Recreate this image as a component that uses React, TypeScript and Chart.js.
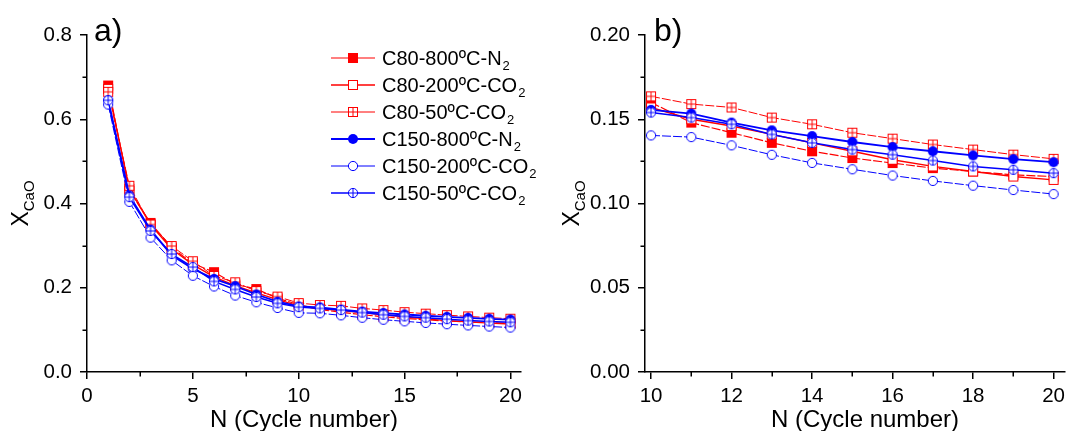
import React, { useEffect, useRef } from "react";
import { Chart, registerables } from "chart.js";

Chart.register(...registerables);

// ---------------- data ----------------
const cycles = [1, 2, 3, 4, 5, 6, 7, 8, 9, 10, 11, 12, 13, 14, 15, 16, 17, 18, 19, 20];

const c80_800_N2 = [0.680, 0.430, 0.354, 0.295, 0.258, 0.237, 0.208, 0.197, 0.175, 0.160, 0.148, 0.142, 0.136, 0.131, 0.127, 0.124, 0.121, 0.119, 0.117, 0.116];
const c80_200_CO2 = [0.672, 0.435, 0.350, 0.292, 0.255, 0.226, 0.205, 0.188, 0.172, 0.157, 0.150, 0.146, 0.141, 0.136, 0.131, 0.126, 0.122, 0.119, 0.116, 0.114];
const c80_50_CO2 = [0.665, 0.442, 0.350, 0.299, 0.263, 0.228, 0.213, 0.192, 0.179, 0.1636, 0.159, 0.157, 0.151, 0.147, 0.142, 0.1385, 0.135, 0.132, 0.129, 0.1265];
const c150_800_N2 = [0.645, 0.419, 0.338, 0.277, 0.245, 0.221, 0.204, 0.184, 0.167, 0.1556, 0.1534, 0.148, 0.1434, 0.140, 0.1365, 0.1335, 0.131, 0.1285, 0.1263, 0.1245];
const c150_200_CO2 = [0.635, 0.404, 0.319, 0.265, 0.2285, 0.203, 0.1815, 0.1655, 0.152, 0.1404, 0.1394, 0.1345, 0.1289, 0.1241, 0.1203, 0.1166, 0.1134, 0.1106, 0.108, 0.1056];
const c150_50_CO2 = [0.645, 0.415, 0.335, 0.280, 0.249, 0.215, 0.196, 0.178, 0.163, 0.154, 0.151, 0.147, 0.141, 0.136, 0.132, 0.129, 0.1255, 0.122, 0.120, 0.118];

const seriesValues = [c80_800_N2, c80_200_CO2, c80_50_CO2, c150_800_N2, c150_200_CO2, c150_50_CO2];
const seriesNames = ["C80-800ºC-N", "C80-200ºC-CO", "C80-50ºC-CO", "C150-800ºC-N", "C150-200ºC-CO", "C150-50ºC-CO"];
const seriesSubs = ["2", "2", "2", "2", "2", "2"];

// tick values
const leftXMinor = [2.5, 7.5, 12.5, 17.5];
const leftYMinor = [0.1, 0.3, 0.5, 0.7];
const rightXMinor = [11, 13, 15, 17, 19];
const rightYMinor = [0.025, 0.075, 0.125, 0.175];

const xTitle = "N (Cycle number)";
const yTitleMain = "X";
const yTitleSub = "CaO";

// ---------------- styles ----------------
const FONT = "'Liberation Sans', Arial, Helvetica, sans-serif";
const RED = "#ff0000";
const BLUE = "#0000ff";

type MarkerKind = "squareFilled" | "squareOpen" | "squareGrid" | "circleFilled" | "circleOpen" | "circlePlus";

const seriesStyles: { color: string; marker: MarkerKind; width: number; dash: number[] }[] = [
  { color: RED, marker: "squareFilled", width: 1.2, dash: [9, 2] },
  { color: RED, marker: "squareOpen", width: 1.4, dash: [] },
  { color: RED, marker: "squareGrid", width: 1, dash: [9, 2] },
  { color: BLUE, marker: "circleFilled", width: 1.8, dash: [] },
  { color: BLUE, marker: "circleOpen", width: 1, dash: [9, 2] },
  { color: BLUE, marker: "circlePlus", width: 1.5, dash: [] },
];

const MSIZE = 12;

function makeMarker(kind: MarkerKind, color: string): HTMLCanvasElement {
  const c = document.createElement("canvas");
  c.width = MSIZE;
  c.height = MSIZE;
  const ctx = c.getContext("2d")!;
  const m = MSIZE / 2;
  ctx.lineWidth = 1;
  ctx.strokeStyle = color;
  if (kind.startsWith("square")) {
    if (kind === "squareFilled") {
      ctx.fillStyle = color;
      ctx.fillRect(1, 1, 10, 10);
    } else {
      ctx.fillStyle = "#ffffff";
      ctx.fillRect(1, 1, 10, 10);
      ctx.strokeRect(1.5, 1.5, 9, 9);
      if (kind === "squareGrid") {
        ctx.beginPath();
        ctx.moveTo(m, 1.5);
        ctx.lineTo(m, 10.5);
        ctx.moveTo(1.5, m);
        ctx.lineTo(10.5, m);
        ctx.stroke();
      }
    }
  } else {
    ctx.beginPath();
    ctx.arc(m, m, 5, 0, Math.PI * 2);
    if (kind === "circleFilled") {
      ctx.fillStyle = color;
      ctx.fill();
    } else {
      ctx.fillStyle = "#ffffff";
      ctx.fill();
      ctx.beginPath();
      ctx.arc(m, m, 4.6, 0, Math.PI * 2);
      ctx.stroke();
      if (kind === "circlePlus") {
        ctx.beginPath();
        ctx.moveTo(m, 1.5);
        ctx.lineTo(m, 10.5);
        ctx.moveTo(1.5, m);
        ctx.lineTo(10.5, m);
        ctx.stroke();
      }
    }
  }
  return c;
}

function drawYTitle(ctx: CanvasRenderingContext2D, xBase: number, yCenter: number) {
  ctx.save();
  ctx.fillStyle = "#000";
  ctx.textBaseline = "alphabetic";
  ctx.textAlign = "left";
  const mainFont = `23px ${FONT}`;
  const subFont = `15px ${FONT}`;
  ctx.font = mainFont;
  const wMain = ctx.measureText(yTitleMain).width;
  ctx.font = subFont;
  const wSub = ctx.measureText(yTitleSub).width;
  const total = wMain + wSub;
  ctx.translate(xBase, yCenter);
  ctx.rotate(-Math.PI / 2);
  ctx.font = mainFont;
  ctx.fillText(yTitleMain, -total / 2, 0);
  ctx.font = subFont;
  ctx.fillText(yTitleSub, -total / 2 + wMain, 6);
  ctx.restore();
}

function drawMinor(chart: any, xs: number[], ys: number[]) {
  const ctx = chart.ctx as CanvasRenderingContext2D;
  const area = chart.chartArea;
  const sx = chart.scales.x;
  const sy = chart.scales.y;
  ctx.save();
  ctx.strokeStyle = "#000";
  ctx.lineWidth = 1.5;
  ctx.beginPath();
  xs.forEach((v) => {
    const px = Math.round(sx.getPixelForValue(v)) + 0.25;
    ctx.moveTo(px, area.bottom);
    ctx.lineTo(px, area.bottom + 4.5);
  });
  ys.forEach((v) => {
    const py = Math.round(sy.getPixelForValue(v)) + 0.25;
    ctx.moveTo(area.left - 4.5, py);
    ctx.lineTo(area.left, py);
  });
  ctx.stroke();
  ctx.restore();
}

type PanelCfg = {
  width: number;
  xMin: number;
  xMax: number;
  xStep: number;
  yMin: number;
  yMax: number;
  yStep: number;
  yDecimals: number;
  axisLeft: number;
  padRight: number;
  xMinorTicks: number[];
  yMinorTicks: number[];
  fromCycle: number;
  panelLabel: string;
  panelLabelX: number;
  yTitleX: number;
  xTitleX: number;
  legend: boolean;
};

const TOP = 35;
const BOTTOM = 372;
const H = 431;

function buildChart(canvas: HTMLCanvasElement, cfg: PanelCfg, markers: HTMLCanvasElement[]) {
  const datasets = seriesValues.map((vals, i) => {
    const st = seriesStyles[i];
    const pts = cycles
      .map((c, k) => ({ x: c, y: vals[k] }))
      .filter((p) => p.x >= cfg.fromCycle);
    return {
      label: seriesNames[i] + seriesSubs[i],
      data: pts,
      borderColor: st.color,
      backgroundColor: st.color,
      borderWidth: st.width,
      borderDash: st.dash,
      pointStyle: markers[i],
      pointRadius: 6,
      pointHoverRadius: 6,
      tension: 0,
      clip: false as any,
      order: 6 - i,
    };
  });

  const overlay = {
    id: "overlay" + cfg.panelLabel,
    afterDraw(chart: any) {
      const ctx = chart.ctx as CanvasRenderingContext2D;
      const area = chart.chartArea;
      drawMinor(chart, cfg.xMinorTicks, cfg.yMinorTicks);
      // panel label
      ctx.save();
      ctx.fillStyle = "#000";
      ctx.font = `32px ${FONT}`;
      ctx.textBaseline = "alphabetic";
      ctx.textAlign = "left";
      ctx.fillText(cfg.panelLabel, cfg.panelLabelX, 41);
      // x title
      ctx.font = `24px ${FONT}`;
      ctx.textAlign = "center";
      ctx.fillText(xTitle, cfg.xTitleX, 427);
      ctx.restore();
      drawYTitle(ctx, cfg.yTitleX, (area.top + area.bottom) / 2);
      if (cfg.legend) {
        ctx.save();
        const x0 = 331;
        const x1 = 375;
        const mx = 353;
        const tx = 382;
        for (let i = 0; i < seriesNames.length; i++) {
          const st = seriesStyles[i];
          const y = 58 + i * 27;
          ctx.strokeStyle = st.color;
          ctx.lineWidth = st.width;
          ctx.setLineDash([]);
          ctx.beginPath();
          ctx.moveTo(x0, y);
          ctx.lineTo(x1, y);
          ctx.stroke();
          ctx.drawImage(markers[i], Math.round(mx - MSIZE / 2), Math.round(y - MSIZE / 2));
          ctx.fillStyle = "#000";
          ctx.textAlign = "left";
          ctx.textBaseline = "alphabetic";
          ctx.font = `20px ${FONT}`;
          ctx.fillText(seriesNames[i], tx, y + 7);
          const w = ctx.measureText(seriesNames[i]).width;
          ctx.font = `13px ${FONT}`;
          ctx.fillText(seriesSubs[i], tx + w + 1, y + 12);
        }
        ctx.restore();
      }
    },
  };

  return new Chart(canvas, {
    type: "line",
    data: { datasets },
    options: {
      animation: false,
      responsive: false,
      maintainAspectRatio: false,
      events: [],
      layout: { autoPadding: false, padding: { top: TOP, right: cfg.padRight, left: 0, bottom: 0 } } as any,
      plugins: { legend: { display: false }, tooltip: { enabled: false } },
      scales: {
        x: {
          type: "linear",
          min: cfg.xMin,
          max: cfg.xMax,
          ticks: {
            stepSize: cfg.xStep,
            includeBounds: false,
            autoSkip: false,
            maxRotation: 0,
            padding: 5,
            color: "#000",
            font: { family: FONT, size: 20.5 },
            callback: (v: any) => String(Math.round(Number(v) * 100) / 100),
          },
          grid: { display: true, drawOnChartArea: false, drawTicks: true, tickLength: 7, color: "#000", lineWidth: 1.5 },
          border: { display: true, color: "#000", width: 1.5 },
          afterFit: (s: any) => {
            s.height = H - BOTTOM;
          },
        },
        y: {
          type: "linear",
          min: cfg.yMin,
          max: cfg.yMax,
          ticks: {
            stepSize: cfg.yStep,
            includeBounds: false,
            autoSkip: false,
            padding: 8,
            color: "#000",
            font: { family: FONT, size: 20.5 },
            callback: (v: any) => Number(v).toFixed(cfg.yDecimals),
          },
          grid: { display: true, drawOnChartArea: false, drawTicks: true, tickLength: 7, color: "#000", lineWidth: 1.5 },
          border: { display: true, color: "#000", width: 1.5 },
          afterFit: (s: any) => {
            s.width = cfg.axisLeft;
          },
        },
      },
    } as any,
    plugins: [overlay],
  });
}

const leftCfg: PanelCfg = {
  width: 540,
  xMin: 0,
  xMax: 20.5,
  xStep: 5,
  yMin: 0,
  yMax: 0.8,
  yStep: 0.2,
  yDecimals: 1,
  axisLeft: 87,
  padRight: 19,
  xMinorTicks: leftXMinor,
  yMinorTicks: leftYMinor,
  fromCycle: 1,
  panelLabel: "a)",
  panelLabelX: 94,
  yTitleX: 28,
  xTitleX: 304,
  legend: true,
};

const rightCfg: PanelCfg = {
  width: 530,
  xMin: 9.85,
  xMax: 20.27,
  xStep: 2,
  yMin: 0,
  yMax: 0.2,
  yStep: 0.05,
  yDecimals: 2,
  axisLeft: 105,
  padRight: 0,
  xMinorTicks: rightXMinor,
  yMinorTicks: rightYMinor,
  fromCycle: 10,
  panelLabel: "b)",
  panelLabelX: 114,
  yTitleX: 39,
  xTitleX: 325,
  legend: false,
};

export default function App() {
  const leftRef = useRef<HTMLCanvasElement>(null);
  const rightRef = useRef<HTMLCanvasElement>(null);

  useEffect(() => {
    const markers = seriesStyles.map((s) => makeMarker(s.marker, s.color));
    const a = buildChart(leftRef.current!, leftCfg, markers);
    const b = buildChart(rightRef.current!, rightCfg, markers);
    return () => {
      a.destroy();
      b.destroy();
    };
  }, []);

  return (
    <div style={{ position: "absolute", left: 0, top: 0, width: 1070, height: 431, background: "#fff", overflow: "hidden" }}>
      <canvas
        ref={leftRef}
        width={540}
        height={431}
        style={{ position: "absolute", left: 0, top: 0, width: 540, height: 431 }}
      />
      <canvas
        ref={rightRef}
        width={530}
        height={431}
        style={{ position: "absolute", left: 540, top: 0, width: 530, height: 431 }}
      />
    </div>
  );
}
